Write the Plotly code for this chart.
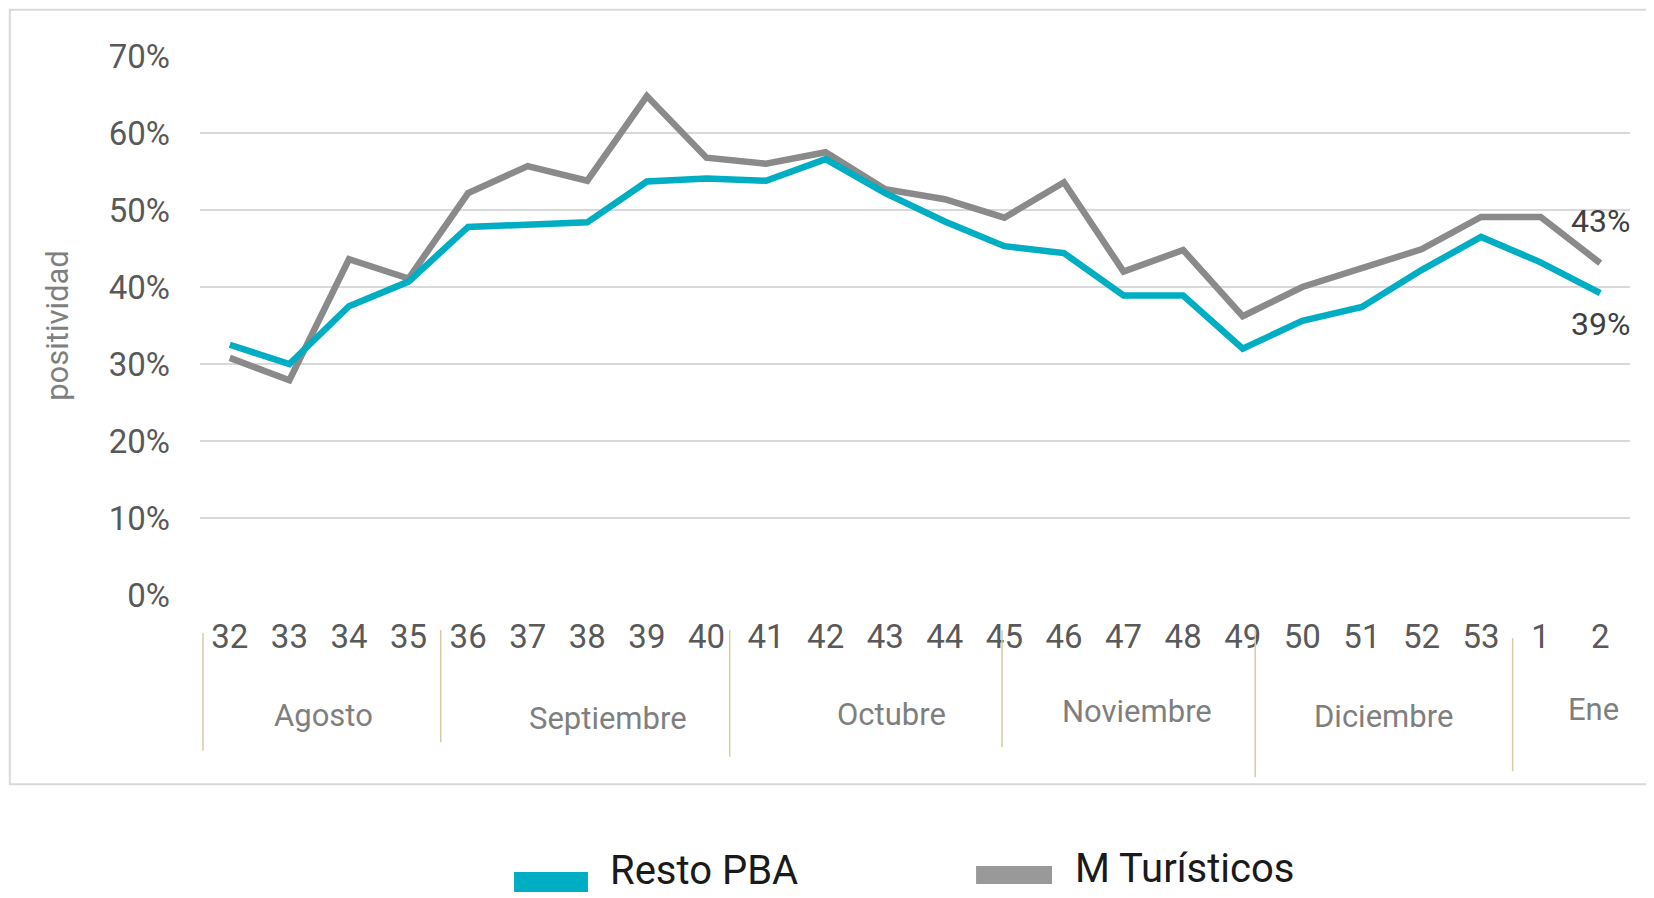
import plotly.graph_objects as go

weeks = ["32", "33", "34", "35", "36", "37", "38", "39", "40", "41", "42", "43",
         "44", "45", "46", "47", "48", "49", "50", "51", "52", "53", "1", "2"]
resto_pba = [0.325, 0.300, 0.375, 0.407, 0.478, 0.482, 0.484, 0.537, 0.541, 0.538, 0.566, 0.522,
             0.485, 0.453, 0.444, 0.389, 0.389, 0.320, 0.356, 0.374, 0.422, 0.465, 0.432, 0.392]
m_turisticos = [0.308, 0.279, 0.436, 0.411, 0.522, 0.557, 0.538, 0.648, 0.568, 0.560, 0.575, 0.527,
                0.514, 0.490, 0.536, 0.420, 0.448, 0.362, 0.400, 0.424, 0.449, 0.491, 0.491, 0.431]
series_names = ["Resto PBA", "M Turísticos"]
months = ["Agosto", "Septiembre", "Octubre", "Noviembre", "Diciembre", "Ene"]
y_ticks = [0, 0.1, 0.2, 0.3, 0.4, 0.5, 0.6, 0.7]

TEAL = "#00aec3"
GRAY = "#8a8a8a"
FONT = "Roboto"
TXT = "#595959"

fig = go.Figure()
fig.add_trace(go.Scatter(x=weeks, y=m_turisticos, mode="lines", name=series_names[1],
                         line=dict(color=GRAY, width=6.5), showlegend=False))
fig.add_trace(go.Scatter(x=weeks, y=resto_pba, mode="lines", name=series_names[0],
                         line=dict(color=TEAL, width=6.5), showlegend=False))

shapes = []
annotations = []

# outer frame
shapes.append(dict(type="rect", xref="paper", yref="paper", x0=-0.133, x1=1.03, y0=-0.351, y1=1.086,
                   line=dict(color="#d9d9d9", width=2), fillcolor="rgba(0,0,0,0)", layer="below"))

# month separators (category index positions, paper y)
sep_x = [-0.45, 3.54, 8.39, 12.96, 17.21, 21.53]
sep_y0 = [-0.0705, -0.065, -0.065, -0.065, -0.065, -0.080]
sep_y1 = [-0.289, -0.273, -0.300, -0.282, -0.338, -0.327]
for sx, a, b in zip(sep_x, sep_y0, sep_y1):
    shapes.append(dict(type="line", xref="x", yref="paper", x0=sx, x1=sx, y0=a, y1=b,
                       line=dict(color="#d6cba6", width=1.5)))

month_x = [1.57, 6.35, 11.1, 15.23, 19.37, 22.88]
month_y = [-0.223, -0.230, -0.221, -0.217, -0.226, -0.213]
for m, mx, my in zip(months, month_x, month_y):
    annotations.append(dict(text=m, x=mx, y=my, xref="x", yref="paper", showarrow=False,
                            font=dict(family=FONT, size=31, color="#7f7f7f"),
                            xanchor="center", yanchor="middle"))

# end labels
annotations.append(dict(text=f"{round(m_turisticos[-1]*100)}%", x=len(weeks) - 1, y=m_turisticos[-1],
                        xref="x", yref="y", showarrow=False, yshift=42,
                        font=dict(family=FONT, size=32, color="#404040")))
annotations.append(dict(text=f"{round(resto_pba[-1]*100)}%", x=len(weeks) - 1, y=resto_pba[-1],
                        xref="x", yref="y", showarrow=False, yshift=-31,
                        font=dict(family=FONT, size=32, color="#404040")))

# manual legend
shapes.append(dict(type="rect", xref="paper", yref="paper", x0=0.2196, x1=0.2713, y0=-0.551, y1=-0.514,
                   line=dict(width=0), fillcolor=TEAL))
shapes.append(dict(type="rect", xref="paper", yref="paper", x0=0.5427, x1=0.5958, y0=-0.536, y1=-0.5028,
                   line=dict(width=0), fillcolor="#999999"))
annotations.append(dict(text=series_names[0], x=0.285, y=-0.512, xref="paper", yref="paper",
                        showarrow=False, xanchor="left", yanchor="middle",
                        font=dict(family=FONT, size=40, color="#1a1a1a")))
annotations.append(dict(text=series_names[1], x=0.6105, y=-0.508, xref="paper", yref="paper",
                        showarrow=False, xanchor="left", yanchor="middle",
                        font=dict(family=FONT, size=40, color="#1a1a1a")))

fig.update_layout(
    width=1638, height=890,
    margin=dict(l=192, r=16, t=48, b=303),
    paper_bgcolor="white", plot_bgcolor="white",
    font=dict(family=FONT, color=TXT),
    shapes=shapes, annotations=annotations,
    xaxis=dict(type="category", range=[-0.5, len(weeks) - 0.5], showgrid=False, zeroline=False,
               showline=False, ticks="", tickfont=dict(family=FONT, size=33, color=TXT),
               ticklabelstandoff=19),
    yaxis=dict(range=[0, 0.7], tickvals=y_ticks, tickformat=".0%", showgrid=True,
               gridcolor="#d9d9d9", gridwidth=1.5, zeroline=False, showline=False, ticks="",
               tickfont=dict(family=FONT, size=33, color=TXT), ticklabelstandoff=29,
               title=dict(text="positividad", font=dict(family=FONT, size=31, color="#7f7f7f"),
                          standoff=30)),
)

fig.write_html("out.html")
